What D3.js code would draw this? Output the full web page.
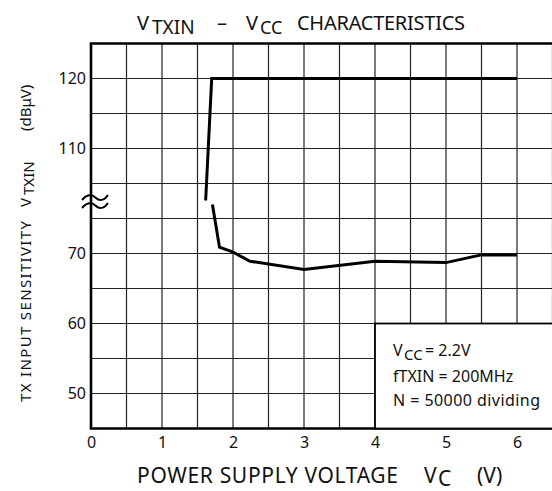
<!DOCTYPE html>
<html>
<head>
<meta charset="utf-8">
<script src="https://cdn.jsdelivr.net/npm/d3@7"></script>
<style>
  body { margin: 0; background: #fff; }
  text { font-family: "Noto Sans", "Open Sans", sans-serif; fill: #111; }
</style>
</head>
<body>
<svg id="chart"></svg>
<script>
const w = 552, h = 491;

// data
const xTicks = [0, 1, 2, 3, 4, 5, 6];
const yTicks = [50, 60, 70, 110, 120];
const upperV = [1.615, 1.70, 6.0];
const upperDb = [90.4, 120, 120];
const lowerV = [1.71, 1.81, 2.0, 2.24, 3.0, 4.0, 5.0, 5.5, 6.0];
const lowerDb = [87, 70.9, 70.2, 68.9, 67.7, 68.9, 68.7, 69.8, 69.8];
const notes = ["= 2.2V", "fTXIN = 200MHz", "N = 50000 dividing"];

const svg = d3.select("#chart").attr("width", w).attr("height", h);

// broken y axis: 75..105 squeezed into one cell
const x = d3.scaleLinear().domain([0, 6.5]).range([91, 552.5]);
const y = d3.scaleLinear().domain([45, 75, 105, 125]).range([428.5, 218.5, 183.5, 43.5]);

const xGrid = d3.range(0.5, 6.51, 0.5);
const yGrid = [50, 55, 60, 65, 70, 75, 105, 110, 115, 120];

// grid
svg.append("g").selectAll("line").data(xGrid).enter().append("line")
  .attr("x1", d => x(d)).attr("x2", d => x(d))
  .attr("y1", y(125)).attr("y2", y(45))
  .style("stroke", "#222").style("stroke-width", 1.2);
svg.append("g").selectAll("line").data(yGrid).enter().append("line")
  .attr("x1", x(0)).attr("x2", w + 2)
  .attr("y1", d => y(d)).attr("y2", d => y(d))
  .style("stroke", "#222").style("stroke-width", 1.2);

// frame (left, top, bottom)
svg.append("path")
  .attr("d", `M${w + 2},${y(125)}H${x(0)}V${y(45)}H${w + 2}`)
  .style("fill", "none").style("stroke", "#000").style("stroke-width", 2.6);

// axes labels
const xAxis = d3.axisBottom(x).tickValues(xTicks).tickSize(0).tickPadding(8).tickFormat(d3.format("d"));
svg.append("g").attr("transform", `translate(0,${y(45)})`).call(xAxis)
  .call(g => g.select(".domain").remove())
  .selectAll("text").style("font-size", "16px").attr("fill", "#111")
  .style("font-family", "Noto Sans, sans-serif");

const yAxis = d3.axisLeft(y).tickValues(yTicks).tickSize(0).tickPadding(5);
svg.append("g").attr("transform", `translate(${x(0)},0)`).call(yAxis)
  .call(g => g.select(".domain").remove())
  .selectAll("text").style("font-size", "16px").attr("fill", "#111")
  .style("font-family", "Noto Sans, sans-serif");

// break mark on y axis
const brk = svg.append("g").style("fill", "none").style("stroke", "#000").style("stroke-width", 2);
[198, 206].forEach(yy => {
  brk.append("path").attr("d", `M82,${yy + 2} C88,${yy - 5} 93,${yy - 3} 96,${yy} S104,${yy + 3} 108,${yy - 3}`);
});

// curves
const line = d3.line().x(d => x(d[0])).y(d => y(d[1]));
svg.append("path").datum(d3.zip(upperV, upperDb)).attr("d", line)
  .style("fill", "none").style("stroke", "#000").style("stroke-width", 3);
svg.append("path").datum(d3.zip(lowerV, lowerDb)).attr("d", line)
  .style("fill", "none").style("stroke", "#000").style("stroke-width", 3);

// condition box
svg.append("rect")
  .attr("x", x(4)).attr("y", y(60))
  .attr("width", w + 4 - x(4)).attr("height", y(45) - y(60))
  .style("fill", "#fff").style("stroke", "#000").style("stroke-width", 1.8);

const nb = svg.append("g").style("font-size", "16px");
nb.append("text").attr("x", 393).attr("y", 356).text("V");
nb.append("text").attr("x", 404).attr("y", 360).style("font-size", "15px").text("CC");
nb.append("text").attr("x", 425).attr("y", 356).text(notes[0]);
nb.append("text").attr("x", 393).attr("y", 382).text(notes[1]);
nb.append("text").attr("x", 393).attr("y", 406).attr("textLength", 147).text(notes[2]);

// title
const tt = svg.append("g").style("font-size", "20px");
tt.append("text").attr("x", 137).attr("y", 29.5).text("V");
tt.append("text").attr("x", 152).attr("y", 33.5).style("font-size", "19px").text("TXIN");
tt.append("text").attr("x", 217).attr("y", 29.5).text("–");
tt.append("text").attr("x", 246).attr("y", 29.5).text("V");
tt.append("text").attr("x", 260).attr("y", 33.5).style("font-size", "18px").text("CC");
tt.append("text").attr("x", 297).attr("y", 29.5).attr("textLength", 168).text("CHARACTERISTICS");

// x label
const xl = svg.append("g").style("font-size", "21px");
xl.append("text").attr("x", 137).attr("y", 483).attr("textLength", 261).text("POWER SUPPLY VOLTAGE");
xl.append("text").attr("x", 424).attr("y", 483).text("V");
xl.append("text").attr("x", 438).attr("y", 486).text("C");
xl.append("text").attr("x", 477).attr("y", 483).text("(V)");

// y label, rotated
const yl = svg.append("g").style("font-size", "15px");
yl.append("text").attr("transform", "translate(31,402) rotate(-90)").attr("textLength", 181).text("TX INPUT SENSITIVITY");
yl.append("text").attr("transform", "translate(31,207) rotate(-90)").text("V");
yl.append("text").attr("transform", "translate(34,195) rotate(-90)").text("TXIN");
yl.append("text").attr("transform", "translate(31,131) rotate(-90)").text("(dBμV)");
</script>
</body>
</html>
